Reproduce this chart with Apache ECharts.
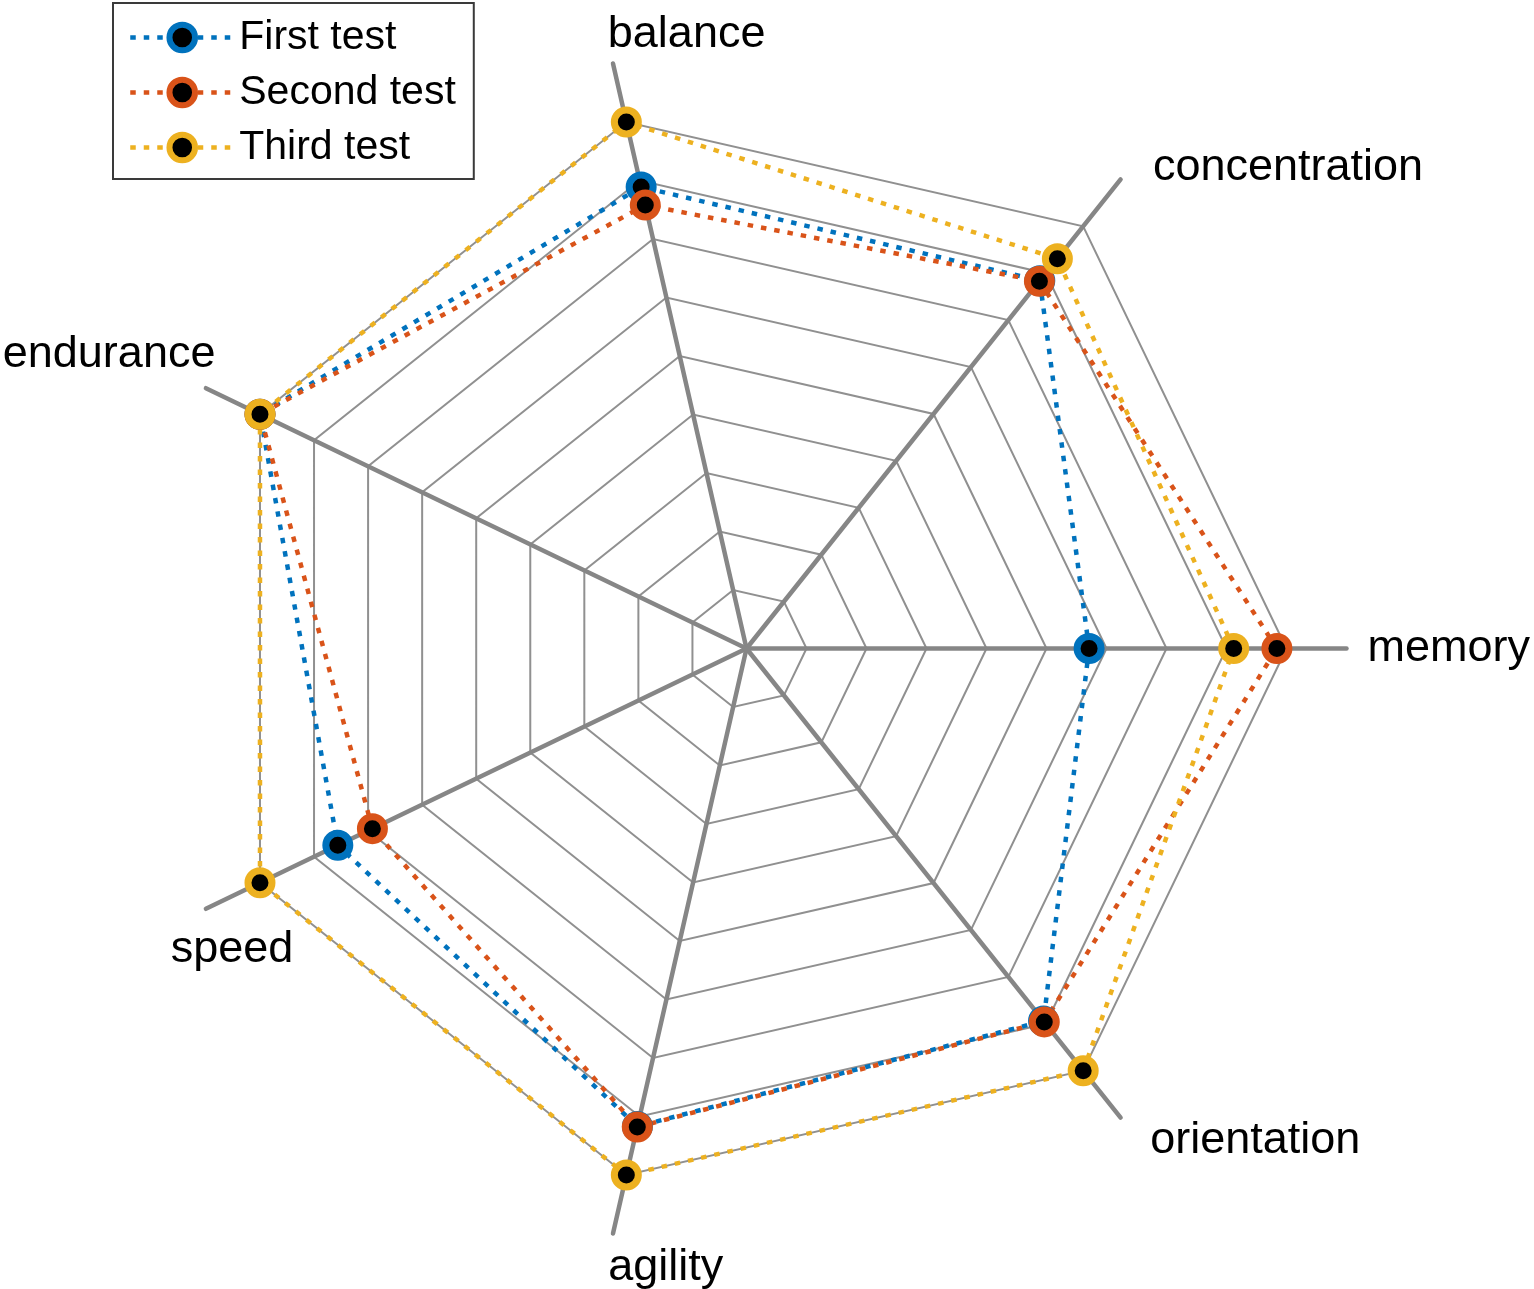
<!DOCTYPE html>
<html>
<head>
<meta charset="utf-8">
<script src="https://cdn.jsdelivr.net/npm/echarts@6/dist/echarts.min.js"></script>
<style>
  html, body { margin: 0; padding: 0; background: #ffffff; }
  #chart { width: 1534px; height: 1289px; }
</style>
</head>
<body>
<div id="chart"></div>
<script>
// ---- data ----
const indicatorNames = ['memory', 'concentration', 'balance', 'endurance', 'speed', 'agility', 'orientation'];
const seriesNames = ['First test', 'Second test', 'Third test'];
const firstTest  = [5.71, 7.84, 7.89, 9.0, 7.56, 8.17, 7.94];
const secondTest = [8.84, 7.83, 7.58, 9.0, 6.92, 8.18, 7.96];
const thirdTest  = [8.12, 8.31, 9.0, 9.0, 9.0, 9.0, 9.0];
const scaleMax = 9;

// ---- styling / layout ----
const colors = ['#0072BD', '#D95319', '#EDB120'];
const dash = [5.5, 8];
const fontFamily = '"Liberation Sans", Arial, Helvetica, sans-serif';
const center = [746.5, 648.5];
// per-label placement (layout only)
const nameLayout = [
  { gap: 21,   align: 'left',   padding: [0, 0, 0, 0] },
  { gap: 15,   align: 'left',   padding: [0, 0, 0, 23] },
  { gap: 30,   align: 'left',   padding: [0, 0, 0, 1.5] },
  { gap: 77.5, align: 'center', padding: [0, 54, 0, 0] },
  { gap: 93.5, align: 'left',   padding: [0, 0, 0, 49] },
  { gap: 35,   align: 'left',   padding: [0, 0, 0, 3] },
  { gap: 29,   align: 'left',   padding: [0, 0, 0, 11.5] }
];

const chart = echarts.init(document.getElementById('chart'), null, { renderer: 'canvas' });

const axisIndicators = indicatorNames.map((n, i) => ({
  name: n,
  max: scaleMax,
  nameGap: nameLayout[i].gap,
  nameTextStyle: {
    align: nameLayout[i].align,
    verticalAlign: 'middle',
    padding: nameLayout[i].padding
  }
}));
const gridIndicators = indicatorNames.map(n => ({ name: n, max: scaleMax }));

const allData = [firstTest, secondTest, thirdTest];

const radarSeries = allData.map((vals, k) => ({
  type: 'radar',
  name: seriesNames[k],
  radarIndex: 1,
  z: 10,
  symbol: 'circle',
  symbolSize: 24,
  lineStyle: { color: colors[k], width: 4.5, type: dash, cap: 'butt' },
  itemStyle: { color: '#000000', borderColor: colors[k], borderWidth: 7 },
  silent: true,
  data: [{ value: vals, name: seriesNames[k] }]
}));

// legend-only line series (empty data) to get line+marker legend icons
const legendSeries = seriesNames.map((n, k) => ({
  type: 'line',
  name: n,
  xAxisIndex: 0,
  yAxisIndex: 0,
  symbol: 'circle',
  lineStyle: { color: colors[k], width: 4.5, type: dash },
  itemStyle: { color: '#000000', borderColor: colors[k], borderWidth: 7 },
  data: []
}));

const option = {
  backgroundColor: '#ffffff',
  animation: false,
  grid: { show: false, left: 0, top: 0, width: 1, height: 1 },
  xAxis: { type: 'value', show: false },
  yAxis: { type: 'value', show: false },
  legend: {
    data: seriesNames,
    orient: 'vertical',
    left: 113,
    top: 3,
    padding: [14, 18, 11, 15],
    itemGap: 14,
    itemWidth: 104,
    itemHeight: 32,
    backgroundColor: '#ffffff',
    borderColor: '#3a3a3a',
    borderWidth: 2,
    borderRadius: 0,
    selectedMode: false,
    itemStyle: { borderWidth: 6 },
    lineStyle: { type: dash, width: 4.5 },
    textStyle: { fontSize: 41, lineHeight: 40, color: '#000000', fontFamily: fontFamily }
  },
  radar: [
    {
      center: center,
      radius: 600,
      startAngle: 0,
      shape: 'polygon',
      z: 3,
      indicator: axisIndicators,
      splitNumber: 1,
      splitLine: { show: false },
      splitArea: { show: false },
      axisLine: { show: true, lineStyle: { color: '#868686', width: 4.5 } },
      axisName: { color: '#000000', fontSize: 45, fontFamily: fontFamily }
    },
    {
      center: center,
      radius: 540,
      startAngle: 0,
      shape: 'polygon',
      z: 2,
      indicator: gridIndicators,
      splitNumber: 9,
      axisName: { show: false },
      axisLine: { show: false },
      splitArea: { show: false },
      splitLine: { show: true, lineStyle: { color: '#909090', width: 2 } }
    }
  ],
  series: legendSeries.concat(radarSeries)
};

chart.setOption(option);
</script>
</body>
</html>
